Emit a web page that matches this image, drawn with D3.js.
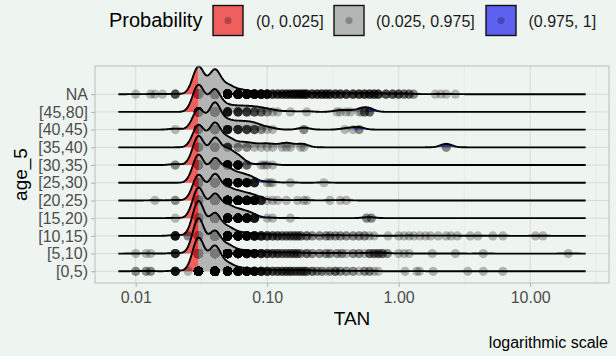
<!DOCTYPE html>
<html>
<head>
<meta charset="utf-8">
<script src="https://cdn.jsdelivr.net/npm/d3@7"></script>
<style>
  body { margin: 0; background: #eef5f1; }
  svg { display: block; font-family: "Liberation Sans", Arial, sans-serif; }
</style>
</head>
<body>
<svg id="chart" width="616" height="356"></svg>
<script>
// categories, bottom to top
const ageGroups = ["[0,5)", "[5,10)", "[10,15)", "[15,20)", "[20,25)", "[25,30)",
                   "[30,35)", "[35,40)", "[40,45)", "[45,80]", "NA"];

const probLabels = ["(0, 0.025]", "(0.025, 0.975]", "(0.975, 1]"];
const probColors = ["#ee2c2c", "#a0a0a0", "#2e2eee"];
const quantileProbs = [0.025, 0.975];

const xTicks = [0.01, 0.1, 1, 10];
const xTickLabels = ["0.01", "0.10", "1.00", "10.00"];
const xMinor = [0.0316, 0.316, 3.16, 31.6];

const bandwidth = 0.044; // log10 units
const ridgeScale = 2.0;

// TAN observations per age group: [value, count]
const tan_0_5 = [
  [0.01, 2], [0.012, 2], [0.013, 2], [0.02, 8], [0.025, 1],
  [0.03, 354], [0.04, 263], [0.05, 75], [0.06, 30], [0.07, 18], [0.08, 12], [0.09, 8], [0.1, 6],
  [0.11, 4], [0.12, 4], [0.13, 4], [0.14, 4], [0.15, 4], [0.16, 3], [0.17, 3], [0.18, 3], [0.19, 3], [0.2, 3],
  [0.22, 3], [0.24, 2], [0.26, 2], [0.28, 1], [0.3, 2], [0.33, 3], [0.36, 2], [0.4, 2], [0.45, 2], [0.5, 1],
  [0.55, 2], [0.6, 2], [0.65, 1], [0.7, 1],
  [1.12, 1], [1.37, 1], [1.44, 1], [1.83, 1], [3.35, 1], [4.4, 1], [6.2, 1]
];
const tan_5_10 = [
  [0.01, 1], [0.012, 1], [0.013, 1], [0.02, 6],
  [0.03, 320], [0.04, 200], [0.05, 70], [0.06, 26], [0.07, 16], [0.08, 10], [0.09, 7], [0.1, 5],
  [0.11, 4], [0.12, 4], [0.13, 3], [0.14, 3], [0.15, 3], [0.16, 3], [0.17, 3], [0.18, 2], [0.2, 3],
  [0.22, 2], [0.25, 2], [0.28, 2], [0.3, 2], [0.34, 2], [0.37, 2], [0.4, 1], [0.45, 2], [0.5, 2],
  [0.55, 1], [0.6, 3], [0.65, 3], [0.7, 3], [0.75, 3], [0.82, 2],
  [1.0, 1], [1.1, 1], [1.2, 1], [1.8, 1], [2.7, 1], [4.4, 1], [19.5, 1]
];
const tan_10_15 = [
  [0.02, 8], [0.025, 2],
  [0.03, 315], [0.04, 200], [0.05, 72], [0.06, 26], [0.07, 16], [0.08, 10], [0.09, 7], [0.1, 5],
  [0.11, 4], [0.12, 4], [0.13, 3], [0.14, 3], [0.15, 3], [0.16, 3], [0.17, 3], [0.18, 3], [0.2, 3],
  [0.22, 2], [0.25, 2], [0.28, 2], [0.3, 2], [0.33, 2], [0.36, 2], [0.4, 2], [0.45, 2], [0.5, 2],
  [0.55, 2], [0.6, 1], [0.65, 1],
  [0.83, 1], [1.0, 1], [1.1, 1], [1.2, 1], [1.3, 1], [1.45, 1], [1.6, 1], [1.75, 1], [2.0, 1],
  [2.3, 1], [2.5, 1], [2.8, 1], [3.5, 1], [4.0, 1], [5.2, 1], [6.2, 1], [11, 1], [12.5, 1]
];
const tan_15_20 = [
  [0.02, 1], [0.03, 104], [0.04, 80], [0.05, 38], [0.06, 22], [0.07, 15], [0.08, 8],
  [0.1, 1], [0.11, 1], [0.15, 1], [0.57, 2], [0.62, 2]
];
const tan_20_25 = [
  [0.014, 1], [0.02, 2], [0.03, 113], [0.04, 113], [0.05, 48], [0.06, 30], [0.07, 20], [0.08, 14], [0.09, 6],
  [0.1, 1], [0.11, 1], [0.12, 1], [0.14, 1], [0.17, 1], [0.19, 1], [0.2, 1], [0.3, 1], [0.36, 1], [0.4, 1]
];
const tan_25_30 = [
  [0.03, 68], [0.04, 57], [0.05, 30], [0.06, 17], [0.07, 12], [0.08, 7],
  [0.1, 1], [0.105, 1], [0.11, 1], [0.15, 1], [0.27, 1]
];
const tan_30_35 = [
  [0.02, 2], [0.03, 60], [0.04, 54], [0.05, 28], [0.06, 16], [0.07, 3],
  [0.09, 1], [0.095, 1], [0.1, 1], [0.11, 1]
];
const tan_35_40 = [
  [0.03, 13], [0.04, 14], [0.05, 5], [0.06, 2], [0.07, 2], [0.08, 1], [0.09, 1], [0.1, 1],
  [0.11, 1], [0.13, 1], [0.14, 1], [0.15, 1], [0.18, 1], [0.19, 1], [2.3, 2]
];
const tan_40_45 = [
  [0.02, 1], [0.03, 21], [0.04, 27], [0.05, 8], [0.06, 6], [0.07, 5], [0.08, 4], [0.09, 2],
  [0.1, 1], [0.11, 1], [0.19, 2], [0.39, 1], [0.45, 1], [0.5, 2]
];
const tan_45_80 = [
  [0.03, 38], [0.04, 31], [0.05, 8], [0.06, 6], [0.07, 5], [0.08, 4], [0.09, 3], [0.1, 2],
  [0.11, 1], [0.12, 1], [0.15, 1], [0.2, 1], [0.34, 1], [0.36, 1], [0.4, 1], [0.43, 1],
  [0.5, 1], [0.52, 1], [0.55, 3], [0.6, 3]
];
const tan_NA = [
  [0.01, 1], [0.013, 1], [0.014, 1], [0.016, 1], [0.02, 4],
  [0.03, 345], [0.04, 300], [0.05, 100], [0.06, 45], [0.07, 28], [0.08, 16], [0.09, 12], [0.1, 10],
  [0.11, 5], [0.12, 5], [0.13, 5], [0.14, 5], [0.15, 5], [0.16, 5], [0.17, 5], [0.18, 5], [0.19, 5], [0.2, 5],
  [0.22, 5], [0.24, 5], [0.26, 5], [0.28, 5], [0.3, 5], [0.33, 5], [0.36, 5], [0.4, 5], [0.45, 5], [0.5, 5],
  [0.55, 5], [0.6, 5], [0.65, 5], [0.7, 5], [0.8, 4], [0.9, 4], [1.0, 4], [1.1, 3], [1.2, 3], [1.3, 2],
  [1.9, 1], [2.1, 1], [2.3, 1], [2.7, 1]
];

const tanByGroup = [tan_0_5, tan_5_10, tan_10_15, tan_15_20, tan_20_25, tan_25_30,
                    tan_30_35, tan_35_40, tan_40_45, tan_45_80, tan_NA];

const svg = d3.select("#chart");
const panel = { left: 95, right: 609, top: 66, bottom: 283 };

// density range = data range +/- 3 bandwidths, axis expanded by 5%
const allValues = tanByGroup.flatMap(g => g.map(d => d[0]));
const lo = Math.log10(d3.min(allValues)) - 3 * bandwidth;
const hi = Math.log10(d3.max(allValues)) + 3 * bandwidth;
const pad = (hi - lo) * 0.05;

const x = d3.scaleLog()
  .domain([10 ** (lo - pad), 10 ** (hi + pad)])
  .range([panel.left, panel.right]);

const y = d3.scalePoint()
  .domain(ageGroups)
  .range([271.3, 94.2]);

const grid = d3.range(512).map(i => lo + i * (hi - lo) / 511);

function kde(pairs) {
  const n = d3.sum(pairs, d => d[1]);
  return grid.map(g => {
    let s = 0;
    for (const [v, c] of pairs) {
      const u = (g - Math.log10(v)) / bandwidth;
      s += c * Math.exp(-0.5 * u * u);
    }
    return { lx: g, d: s / (n * bandwidth * Math.sqrt(2 * Math.PI)) };
  });
}

function quantiles(pairs) {
  const logs = pairs.flatMap(([v, c]) => d3.range(c).map(() => Math.log10(v))).sort(d3.ascending);
  return quantileProbs.map(p => d3.quantileSorted(logs, p));
}

const ridges = tanByGroup.map((pairs, i) => ({
  group: ageGroups[i],
  pairs,
  dens: kde(pairs),
  q: quantiles(pairs)
}));

const maxDens = d3.max(ridges, r => d3.max(r.dens, d => d.d));
const h = d3.scaleLinear().domain([0, maxDens]).range([0, ridgeScale * y.step()]);

// piece of the curve between a and b (log units), with interpolated ends
function segment(dens, a, b) {
  const interp = t => {
    const j = d3.bisector(d => d.lx).left(dens, t);
    if (j <= 0) return dens[0];
    if (j >= dens.length) return dens[dens.length - 1];
    const p = dens[j - 1], q = dens[j];
    const f = (t - p.lx) / (q.lx - p.lx);
    return { lx: t, d: p.d + f * (q.d - p.d) };
  };
  const inner = dens.filter(d => d.lx > a && d.lx < b);
  return [interp(Math.max(a, lo)), ...inner, interp(Math.min(b, hi))];
}

// background grid
const gGrid = svg.append("g");
gGrid.selectAll("line.minor")
  .data(xMinor.filter(v => v > x.domain()[0] && v < x.domain()[1]))
  .join("line")
  .attr("x1", d => x(d)).attr("x2", d => x(d))
  .attr("y1", panel.top).attr("y2", panel.bottom)
  .attr("stroke", "#e1e7e3").attr("stroke-width", 0.6);
gGrid.selectAll("line.vmajor")
  .data(xTicks)
  .join("line")
  .attr("x1", d => x(d)).attr("x2", d => x(d))
  .attr("y1", panel.top).attr("y2", panel.bottom)
  .attr("stroke", "#d6dcd8").attr("stroke-width", 1);
gGrid.selectAll("line.hmajor")
  .data(ageGroups)
  .join("line")
  .attr("x1", panel.left).attr("x2", panel.right)
  .attr("y1", d => y(d)).attr("y2", d => y(d))
  .attr("stroke", "#d6dcd8").attr("stroke-width", 1);

// ridges, top group first so lower ridges overlap it
const area = base => d3.area()
  .x(d => x(10 ** d.lx))
  .y0(base)
  .y1(d => base - h(d.d));

const line = base => d3.line()
  .x(d => x(10 ** d.lx))
  .y(d => base - h(d.d));

const gRidges = svg.append("g");
ridges.slice().reverse().forEach(r => {
  const base = y(r.group);
  const g = gRidges.append("g");
  const bounds = [lo - 1, r.q[0], r.q[1], hi + 1];
  [0, 1, 2].forEach(k => {
    if (bounds[k + 1] <= lo || bounds[k] >= hi) return;
    g.append("path")
      .attr("d", area(base)(segment(r.dens, bounds[k], bounds[k + 1])))
      .attr("fill", probColors[k])
      .attr("fill-opacity", 0.75);
  });
  g.append("path")
    .attr("d", line(base)(r.dens))
    .attr("fill", "none")
    .attr("stroke", "black")
    .attr("stroke-width", 1.9);
  const pts = r.pairs.flatMap(([v, c]) => d3.range(c).map(() => v));
  g.selectAll("circle")
    .data(pts)
    .join("circle")
    .attr("cx", d => x(d))
    .attr("cy", base)
    .attr("r", 4.6)
    .attr("fill", "black")
    .attr("fill-opacity", 0.26);
});

// panel border
svg.append("rect")
  .attr("x", panel.left).attr("y", panel.top)
  .attr("width", panel.right - panel.left).attr("height", panel.bottom - panel.top)
  .attr("fill", "none").attr("stroke", "#b8bebb").attr("stroke-width", 1);

// axes
const xAxis = svg.append("g")
  .attr("transform", `translate(0,${panel.bottom})`)
  .call(d3.axisBottom(x).tickValues(xTicks).tickFormat((d, i) => xTickLabels[i]).tickSize(4).tickPadding(5));
const yAxis = svg.append("g")
  .attr("transform", `translate(${panel.left},0)`)
  .call(d3.axisLeft(y).tickSize(4).tickPadding(3));

[xAxis, yAxis].forEach(a => {
  a.select(".domain").remove();
  a.selectAll(".tick line").attr("stroke", "#b3b3b3");
  a.selectAll(".tick text")
    .attr("fill", "#4d4d4d")
    .style("font-size", "16px")
    .style("font-family", "'Liberation Sans', Arial, sans-serif");
});

svg.append("text")
  .attr("x", (panel.left + panel.right) / 2).attr("y", 325)
  .attr("text-anchor", "middle")
  .style("font-size", "19px")
  .text("TAN");

svg.append("text")
  .attr("transform", `translate(27,${(panel.top + panel.bottom) / 2}) rotate(-90)`)
  .attr("text-anchor", "middle")
  .style("font-size", "19px")
  .text("age_5");

svg.append("text")
  .attr("x", 608).attr("y", 348)
  .attr("text-anchor", "end")
  .style("font-size", "16px")
  .text("logarithmic scale");

// legend
const legend = svg.append("g");
legend.append("text")
  .attr("x", 109).attr("y", 27)
  .style("font-size", "20px")
  .text("Probability");

const keyX = [213, 334, 486];
const labelX = [256, 376, 528.5];
probLabels.forEach((lab, k) => {
  legend.append("rect")
    .attr("x", keyX[k]).attr("y", 5.5)
    .attr("width", 30).attr("height", 30)
    .attr("fill", probColors[k]).attr("fill-opacity", 0.75)
    .attr("stroke", "#111").attr("stroke-width", 1.4);
  legend.append("circle")
    .attr("cx", keyX[k] + 15).attr("cy", 20.5)
    .attr("r", 3.5)
    .attr("fill", "black").attr("fill-opacity", 0.26);
  legend.append("text")
    .attr("x", labelX[k]).attr("y", 27)
    .style("font-size", "16px")
    .attr("fill", "#1a1a1a")
    .text(lab);
});
</script>
</body>
</html>
